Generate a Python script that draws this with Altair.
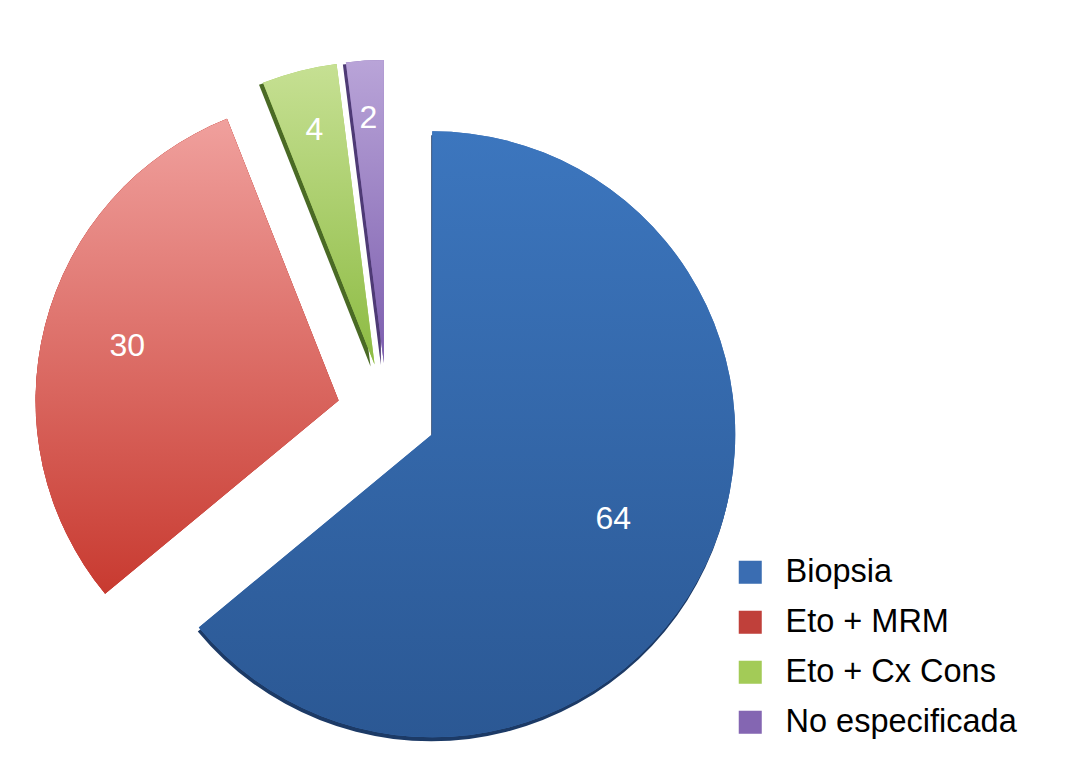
import altair as alt
import pandas as pd

# ---- data ----
categories = ["Biopsia", "Eto + MRM", "Eto + Cx Cons", "No especificada"]
values = [64, 30, 4, 2]

# ---- styles ----
legend_colors = ["#3A6DB2", "#C0403A", "#A3CB57", "#8466B2"]
grad_top = ["#3C76BE", "#F0A09D", "#C6E093", "#B9A4D8"]
grad_bottom = ["#2B5894", "#C83A30", "#8DBB43", "#7C5EAE"]
shadow_colors = ["#1C3A66", "#C83A30", "#4A6A25", "#4E3A75"]
shadow_dx = [-1, 0, -4, -3]
shadow_dy = [4, 0, 2, 2]
label_radius = {"Biopsia": 0.66, "Eto + MRM": 0.72, "Eto + Cx Cons": 0.80, "No especificada": 0.81}

# layout (pixels inside the plot area)
W, H = 1040, 740
CX, CY = 379, 405
R = 303
EXPLODE = 50

df = pd.DataFrame({"category": categories, "value": values, "order": list(range(len(categories)))})

lr_expr = " : ".join(
    [f"datum.category == '{k}' ? {v}" for k, v in label_radius.items()]
) + " : 0.7"

base = (
    alt.Chart(df)
    .transform_window(cum="sum(value)", sort=[alt.SortField("order")], frame=[None, 0])
    .transform_joinaggregate(total="sum(value)")
    .transform_calculate(
        a0="(datum.cum - datum.value) / datum.total * 2 * PI",
        a1="datum.cum / datum.total * 2 * PI",
    )
    .transform_calculate(mid="(datum.a0 + datum.a1) / 2")
    .transform_calculate(
        px=f"{CX} + {EXPLODE} * sin(datum.mid)",
        py=f"{CY} - {EXPLODE} * cos(datum.mid)",
        lr=f"({lr_expr}) * {R}",
    )
    .transform_calculate(
        lx="datum.px + datum.lr * sin(datum.mid)",
        ly="datum.py - datum.lr * cos(datum.mid)",
    )
)

arc_enc = dict(
    theta=alt.Theta("a0:Q", scale=None, stack=None),
    theta2=alt.Theta2("a1:Q"),
    x=alt.X("px:Q", scale=None, axis=None),
    y=alt.Y("py:Q", scale=None, axis=None),
)

layers = []

# 3D-ish side edges
for cat, sc, dx, dy in zip(categories, shadow_colors, shadow_dx, shadow_dy):
    layers.append(
        base.transform_filter(alt.datum.category == cat)
        .mark_arc(radius=R, fill=sc, xOffset=dx, yOffset=dy)
        .encode(**arc_enc)
    )

# base layer carrying the legend
layers.append(
    base.mark_arc(radius=R).encode(
        color=alt.Color(
            "category:N",
            scale=alt.Scale(domain=categories, range=legend_colors),
            sort=categories,
            legend=alt.Legend(
                title=None,
                orient="none",
                legendX=726,
                legendY=548,
                symbolType="square",
                symbolSize=530,
                symbolStrokeWidth=0,
                labelFontSize=32.5,
                labelFont="Liberation Sans",
                labelColor="#000000",
                labelOffset=19,
                rowPadding=17,
                padding=0,
                labelLimit=400,
            ),
        ),
        **arc_enc,
    )
)

# gradient-filled slices
for cat, top, bot in zip(categories, grad_top, grad_bottom):
    layers.append(
        base.transform_filter(alt.datum.category == cat)
        .mark_arc(
            radius=R,
            fill=alt.Gradient(
                gradient="linear",
                stops=[alt.GradientStop(color=top, offset=0), alt.GradientStop(color=bot, offset=1)],
                x1=0, x2=0, y1=0, y2=1,
            ),
        )
        .encode(**arc_enc)
    )

# value labels
layers.append(
    base.mark_text(color="white", fontSize=32, font="Liberation Sans", align="center", baseline="middle").encode(
        x=alt.X("lx:Q", scale=None, axis=None),
        y=alt.Y("ly:Q", scale=None, axis=None),
        text=alt.Text("value:Q"),
    )
)

chart = (
    alt.layer(*layers)
    .properties(width=W, height=H, padding=0, autosize=alt.AutoSizeParams(type="none"))
    .configure_view(strokeWidth=0, stroke="transparent")
)

chart.save("out.html", embed_options={"renderer": "svg", "actions": False})
